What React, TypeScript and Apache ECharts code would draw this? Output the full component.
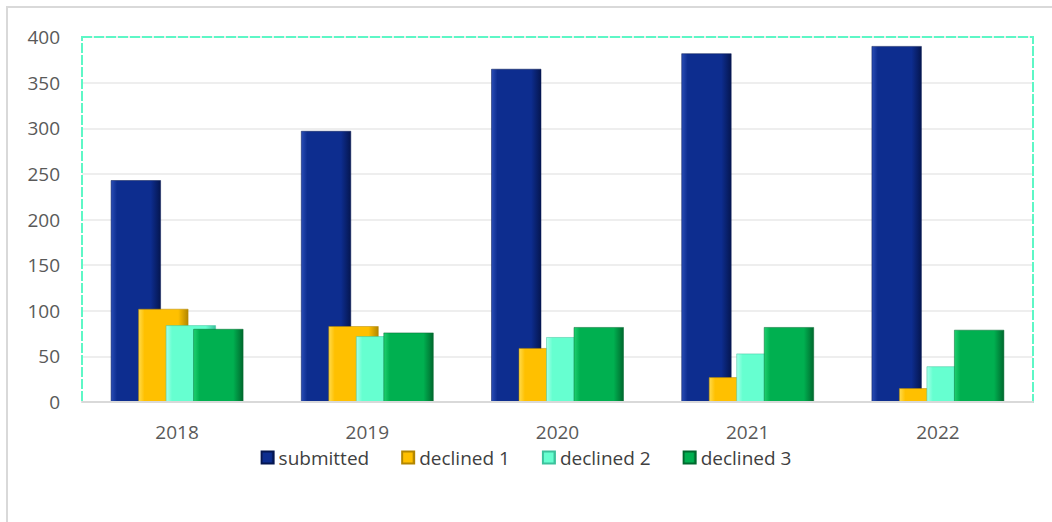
import React, { useEffect, useRef } from "react";
import * as echarts from "echarts";

const years = ["2018", "2019", "2020", "2021", "2022"];
const submitted = [243, 297, 365, 382, 390];
const declined1 = [102, 83, 59, 27, 15];
const declined2 = [84, 72, 71, 53, 39];
const declined3 = [80, 76, 82, 82, 79];
const seriesNames = ["submitted", "declined 1", "declined 2", "declined 3"];

const palettes = [
  ["#2a4db5", "#0d2d8f", "#051650"],
  ["#ffdb4d", "#ffc000", "#b38600"],
  ["#a6ffe9", "#66ffd0", "#3cc29c"],
  ["#1fd070", "#00b050", "#00692e"],
];

function grad(p: string[]) {
  return new echarts.graphic.LinearGradient(0, 0, 1, 0, [
    { offset: 0, color: p[0] },
    { offset: 0.12, color: p[1] },
    { offset: 0.8, color: p[1] },
    { offset: 1, color: p[2] },
  ]);
}

export default function App() {
  const ref = useRef<HTMLDivElement>(null);
  useEffect(() => {
    document.body.style.margin = "0";
    const chart = echarts.init(ref.current!, null, { renderer: "svg" });
    const font = "Open Sans";
    const data = [submitted, declined1, declined2, declined3];
    chart.setOption({
      animation: false,
      backgroundColor: "#ffffff",
      textStyle: { fontFamily: font },
      graphic: [
        {
          type: "rect",
          shape: { x: 7, y: 7, width: 1100, height: 600 },
          style: { fill: "none", stroke: "#d9d9d9", lineWidth: 2 },
          silent: true,
          z: -10,
        },
        {
          type: "rect",
          shape: { x: 82, y: 37, width: 951, height: 365 },
          style: { fill: "none", stroke: "#5ef7c6", lineWidth: 2, lineDash: [10, 2] },
          silent: true,
          z: 1,
        },
      ],
      legend: {
        data: seriesNames,
        bottom: 50,
        left: "center",
        itemWidth: 12,
        itemHeight: 12,
        itemGap: 32,
        icon: "rect",
        textStyle: { fontFamily: font, fontSize: 19, color: "#404040" },
      },
      grid: { left: 82, right: 19, top: 37, bottom: 120, containLabel: false },
      xAxis: {
        type: "category",
        data: years,
        axisLine: { show: true, lineStyle: { color: "#d9d9d9", width: 2 } },
        axisTick: { show: false },
        axisLabel: { fontSize: 19, color: "#595959", margin: 20, fontFamily: font },
        z: 3,
      },
      yAxis: {
        type: "value",
        min: 0,
        max: 400,
        interval: 50,
        axisLine: { show: false },
        axisTick: { show: false },
        axisLabel: { fontSize: 19, color: "#595959", margin: 22, fontFamily: font },
        splitLine: { lineStyle: { color: "#eeeeee", width: 2 } },
      },
      series: seriesNames.map((name, i) => ({
        name,
        type: "bar",
        data: data[i],
        barWidth: 50,
        barGap: "-45%",
        barCategoryGap: "30%",
        z: 2,
        itemStyle: {
          color: grad(palettes[i]),
          borderColor: palettes[i][2],
          borderWidth: 0.5,
        },
        emphasis: { disabled: true },
      })),
    });
    return () => chart.dispose();
  }, []);
  return <div ref={ref} style={{ width: 1052, height: 522 }} />;
}
